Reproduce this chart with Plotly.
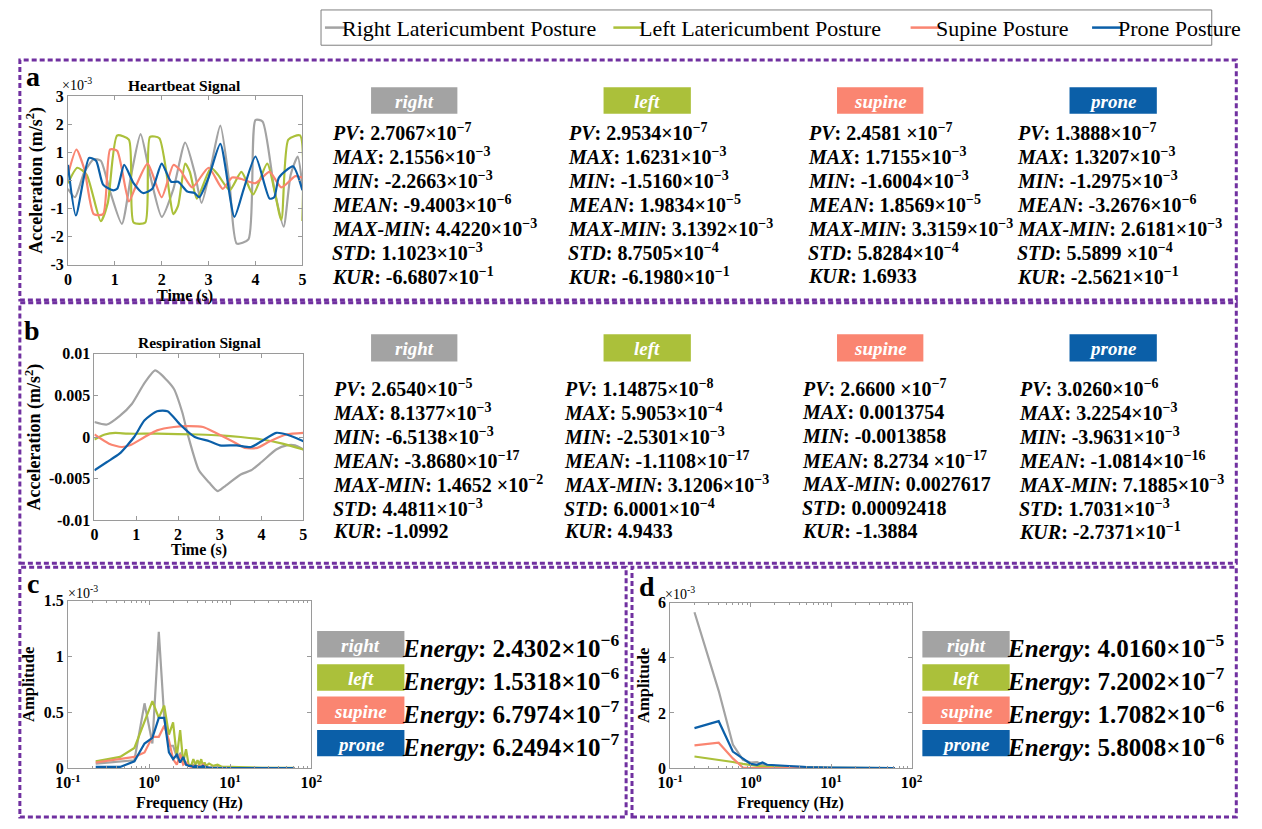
import plotly.graph_objects as go

W, H = 1262, 829
FONT = "Liberation Serif"

# ---------------- colours / names ----------------
postures = ["right", "left", "supine", "prone"]
legend_names = ["Right Latericumbent Posture", "Left Latericumbent Posture", "Supine Posture", "Prone Posture"]
colors = ["#A3A3A3", "#ABC03A", "#FA8571", "#0B5FA8"]

# ---------------- (a) heartbeat signal, units of 1e-3 m/s^2 ----------------
hb_right_t = [0, 0.15, 0.35, 0.55, 0.7, 0.9, 1.15, 1.35, 1.55, 1.75, 2.0, 2.25, 2.5, 2.7, 2.85, 3.05, 3.25, 3.45, 3.6, 3.85, 4.0, 4.15, 4.4, 4.6, 4.75, 4.9, 5.0]
hb_right_v = [-0.3, -0.6, 0.3, 0.75, 0.7, -0.4, -1.55, 0.2, 1.65, 0.2, -1.3, -0.3, 1.35, 0.3, -0.8, 0.5, 1.95, -0.2, -2.25, -2.1, 2.15, 2.1, -0.3, -1.65, 0.2, 0.85, -0.2]
hb_left_t = [0, 0.2, 0.4, 0.7, 0.85, 1.05, 1.3, 1.4, 1.65, 1.75, 1.95, 2.25, 2.35, 2.5, 2.6, 2.75, 3.05, 3.2, 3.45, 3.7, 3.95, 4.25, 4.55, 4.7, 4.95, 5.0]
hb_left_v = [-0.1, 0.45, 0.2, -1.45, -0.8, 1.6, 1.45, -1.5, -1.5, 1.55, 1.5, -1.2, -0.9, 0.6, 0.3, -0.65, 0.45, 0.2, -0.35, 0.3, -0.5, 0.6, -1.4, 1.45, 1.6, -1.45]
hb_supine_t = [0, 0.18, 0.35, 0.55, 0.75, 0.9, 1.05, 1.3, 1.45, 1.7, 2.0, 2.25, 2.4, 2.65, 3.0, 3.3, 3.5, 3.7, 4.0, 4.3, 4.55, 4.85, 5.0]
hb_supine_v = [0.2, 1.1, 0.4, -1.2, -1.2, 1.1, 1.05, -0.75, -0.2, 0.6, -0.6, 0.55, 0.35, -0.25, 0.45, -0.3, 0.1, 0.05, -0.1, 0.3, -0.25, 0.15, 0.1]
hb_prone_t = [0, 0.17, 0.45, 0.6, 0.75, 0.95, 1.05, 1.2, 1.4, 1.6, 1.8, 2.0, 2.2, 2.35, 2.55, 2.7, 2.8, 3.0, 3.25, 3.55, 3.75, 4.0, 4.3, 4.4, 4.5, 4.8, 5.0]
hb_prone_v = [0.55, -1.25, 0.8, 0.7, -0.15, -0.35, -0.3, 0.55, -0.1, -0.45, -0.3, 0.6, -0.05, -0.05, -0.4, -0.45, -0.6, 0.1, 1.3, -1.3, -0.3, 0.85, -0.65, -0.6, 0.1, 0.5, -0.35]

# ---------------- (b) respiration signal, m/s^2 ----------------
rs_right_t = [0, 0.3, 0.6, 0.9, 1.2, 1.45, 1.6, 1.9, 2.1, 2.25, 2.5, 2.75, 2.95, 3.1, 3.5, 3.75, 4.0, 4.35, 4.6, 4.8, 5.0]
rs_right_v = [0.0018, 0.0015, 0.0025, 0.004, 0.0065, 0.008, 0.0075, 0.0058, 0.003, 0.0, -0.004, -0.0055, -0.0065, -0.006, -0.0045, -0.004, -0.003, -0.0015, -0.001, -0.001, -0.0015]
rs_left_t = [0, 0.25, 0.5, 0.8, 1.5, 2.5, 3.0, 3.5, 4.0, 4.5, 5.0]
rs_left_v = [-0.0003, 0.0003, 0.0005, 0.0004, 0.0004, 0.0003, 0.0002, 0.0, -0.0003, -0.0008, -0.0015]
rs_supine_t = [0, 0.35, 0.65, 0.85, 1.2, 1.5, 1.9, 2.2, 2.6, 2.9, 3.3, 3.6, 3.9, 4.2, 4.6, 5.0]
rs_supine_v = [0.0003, -0.0008, -0.0012, -0.001, 0.0, 0.0008, 0.0012, 0.0013, 0.0012, 0.0005, -0.0005, -0.0013, -0.0013, -0.0005, 0.0003, 0.0005]
rs_prone_t = [0, 0.3, 0.6, 0.95, 1.2, 1.5, 1.75, 2.05, 2.4, 2.75, 3.0, 3.4, 3.75, 4.0, 4.35, 4.6, 5.0]
rs_prone_v = [-0.004, -0.003, -0.002, 0.0, 0.002, 0.0031, 0.0031, 0.0015, 0.0, -0.0005, -0.001, -0.001, -0.0012, -0.0005, 0.0005, 0.0003, -0.0005]

# ---------------- (c) heartbeat spectrum, units of 1e-3 ----------------
fc = [0.22, 0.44, 0.66, 0.88, 1.10, 1.32, 1.54, 1.76, 1.98, 2.20, 2.42, 2.64, 2.86, 3.08, 3.30, 3.52, 3.74, 3.96, 4.18, 4.40, 4.62, 4.84, 5.06, 5.5, 6.2, 7.0, 8.0, 10.0, 15.0, 25.0, 40.0, 62.0]
sc_right = [0.04, 0.06, 0.07, 0.58, 0.22, 1.22, 0.45, 0.20, 0.20, 0.10, 0.13, 0.08, 0.03, 0.03, 0.02, 0.03, 0.02, 0.02, 0.02, 0.02, 0.01, 0.02, 0.01, 0.01, 0.01, 0.01, 0.005, 0.005, 0.003, 0.002, 0.001, 0.0]
sc_left = [0.06, 0.10, 0.18, 0.42, 0.60, 0.45, 0.56, 0.30, 0.41, 0.10, 0.34, 0.05, 0.17, 0.03, 0.02, 0.08, 0.03, 0.07, 0.03, 0.08, 0.02, 0.05, 0.02, 0.04, 0.02, 0.03, 0.01, 0.01, 0.005, 0.003, 0.002, 0.001]
sc_supine = [0.05, 0.08, 0.10, 0.14, 0.28, 0.28, 0.38, 0.25, 0.08, 0.03, 0.12, 0.03, 0.05, 0.02, 0.01, 0.02, 0.01, 0.01, 0.02, 0.01, 0.03, 0.01, 0.01, 0.0, 0.0, 0.0, 0.0, 0.0, 0.0, 0.0, 0.0, 0.0]
sc_prone = [0.01, 0.01, 0.06, 0.22, 0.27, 0.45, 0.45, 0.14, 0.08, 0.12, 0.05, 0.10, 0.03, 0.02, 0.02, 0.01, 0.02, 0.01, 0.01, 0.01, 0.02, 0.01, 0.01, 0.0, 0.0, 0.0, 0.0, 0.0, 0.0, 0.0, 0.0, 0.0]

# ---------------- (d) respiration spectrum, units of 1e-3 ----------------
fd = [0.2, 0.4, 0.6, 0.8, 1.0, 1.2, 1.4, 1.6, 2.0, 3.0, 5.0, 10.0, 20.0, 40.0, 62.0]
sd_right = [5.65, 2.8, 0.85, 0.3, 0.2, 0.22, 0.12, 0.1, 0.08, 0.05, 0.03, 0.01, 0.005, 0.002, 0.0]
sd_left = [0.42, 0.3, 0.22, 0.15, 0.1, 0.08, 0.06, 0.05, 0.04, 0.02, 0.01, 0.005, 0.0, 0.0, 0.0]
sd_supine = [0.82, 0.92, 0.35, 0.02, 0.0, 0.0, 0.0, 0.0, 0.0, 0.0, 0.0, 0.0, 0.0, 0.0, 0.0]
sd_prone = [1.45, 1.7, 0.6, 0.35, 0.15, 0.12, 0.2, 0.12, 0.1, 0.06, 0.04, 0.02, 0.01, 0.005, 0.0]

# ---------------- statistics text ----------------
stat_names = ["PV", "MAX", "MIN", "MEAN", "MAX-MIN", "STD", "KUR"]
hb_stats_right = ["2.7067×10^-7", "2.1556×10^-3", "-2.2663×10^-3", "-9.4003×10^-6", "4.4220×10^-3", "1.1023×10^-3", "-6.6807×10^-1"]
hb_stats_left = ["2.9534×10^-7", "1.6231×10^-3", "-1.5160×10^-3", "1.9834×10^-5", "3.1392×10^-3", "8.7505×10^-4", "-6.1980×10^-1"]
hb_stats_supine = ["2.4581 ×10^-7", "1.7155×10^-3", "-1.6004×10^-3", "1.8569×10^-5", "3.3159×10^-3", "5.8284×10^-4", "1.6933"]
hb_stats_prone = ["1.3888×10^-7", "1.3207×10^-3", "-1.2975×10^-3", "-3.2676×10^-6", "2.6181×10^-3", "5.5899 ×10^-4", "-2.5621×10^-1"]
rs_stats_right = ["2.6540×10^-5", "8.1377×10^-3", "-6.5138×10^-3", "-3.8680×10^-17", "1.4652 ×10^-2", "4.4811×10^-3", "-1.0992"]
rs_stats_left = ["1.14875×10^-8", "5.9053×10^-4", "-2.5301×10^-3", "-1.1108×10^-17", "3.1206×10^-3", "6.0001×10^-4", "4.9433"]
rs_stats_supine = ["2.6600 ×10^-7", "0.0013754", "-0.0013858", "8.2734 ×10^-17", "0.0027617", "0.00092418", "-1.3884"]
rs_stats_prone = ["3.0260×10^-6", "3.2254×10^-3", "-3.9631×10^-3", "-1.0814×10^-16", "7.1885×10^-3", "1.7031×10^-3", "-2.7371×10^-1"]
energy_c = ["2.4302×10^-6", "1.5318×10^-6", "6.7974×10^-7", "6.2494×10^-7"]
energy_d = ["4.0160×10^-5", "7.2002×10^-7", "1.7082×10^-6", "5.8008×10^-6"]

LEFT_FIX = 9  # annotation left-anchor offset correction (px)


def X(p):
    return p / W


def Y(p):
    return 1 - p / H


def fmt(s):
    if "^" in s:
        m, e = s.split("^")
        return m + "<sup>" + e.replace("-", "−") + "</sup>"
    return s


fig = go.Figure()

series = [
    ("x", "y", True, [(hb_right_t, hb_right_v), (hb_left_t, hb_left_v), (hb_supine_t, hb_supine_v), (hb_prone_t, hb_prone_v)]),
    ("x2", "y2", True, [(rs_right_t, rs_right_v), (rs_left_t, rs_left_v), (rs_supine_t, rs_supine_v), (rs_prone_t, rs_prone_v)]),
    ("x3", "y3", False, [(fc, sc_right), (fc, sc_left), (fc, sc_supine), (fc, sc_prone)]),
    ("x4", "y4", False, [(fd, sd_right), (fd, sd_left), (fd, sd_supine), (fd, sd_prone)]),
]
for xa, ya, smooth, data in series:
    for i, (xs, ys) in enumerate(data):
        ln = dict(color=colors[i], width=2.2)
        if smooth:
            ln.update(shape="spline", smoothing=0.6)
        fig.add_trace(go.Scatter(x=xs, y=ys, mode="lines", xaxis=xa, yaxis=ya,
                                 line=ln, showlegend=False, name=legend_names[i]))

AX = "#9A9A9A"
tickfont = dict(family=FONT, size=16, color="black", weight="bold")
titlefont = dict(family=FONT, size=18, color="black", weight="bold")
common = dict(showline=True, linecolor=AX, linewidth=1, mirror="ticks", ticks="inside",
              ticklen=4, tickcolor=AX, showgrid=False, zeroline=False, tickfont=tickfont)

log_minor = [v * m for m in (0.1, 1, 10) for v in range(2, 10)]
log_ticks = dict(type="log", range=[-1, 2], tickvals=[0.1, 1, 10, 100],
                 ticktext=["10<sup>-1</sup>", "10<sup>0</sup>", "10<sup>1</sup>", "10<sup>2</sup>"],
                 minor=dict(tickvals=log_minor, ticks="inside", ticklen=2, tickcolor=AX, showgrid=False))

acc_title = dict(text="Acceleration (m/s<sup>2</sup>)", font=titlefont, standoff=3)
amp_title = dict(text="Amplitude", font=dict(titlefont, size=16.5), standoff=4)

fig.update_layout(
    xaxis=dict(domain=[X(56), X(295)], anchor="y", range=[0, 5], tickvals=[0, 1, 2, 3, 4, 5], **common),
    yaxis=dict(domain=[Y(262), Y(90)], anchor="x", range=[-3, 3], tickvals=[-3, -2, -1, 0, 1, 2, 3],
               ticktext=["-3", "-2", "-1", "0", "1", "2", "3"], title=acc_title, **common),
    xaxis2=dict(domain=[X(83), X(296)], anchor="y2", range=[0, 5], tickvals=[0, 1, 2, 3, 4, 5], **common),
    yaxis2=dict(domain=[Y(523), Y(353)], anchor="x2", range=[-0.01, 0.01],
                tickvals=[-0.01, -0.005, 0, 0.005, 0.01], ticktext=["-0.01", "-0.005", "0", "0.005", "0.01"],
                title=acc_title, **common),
    xaxis3=dict(domain=[X(56), X(304)], anchor="y3", **log_ticks, **common),
    yaxis3=dict(domain=[Y(776), Y(605)], anchor="x3", range=[0, 1.5], tickvals=[0, 0.5, 1, 1.5],
                ticktext=["0", "0.5", "1", "1.5"], title=amp_title, **common),
    xaxis4=dict(domain=[X(670), X(916)], anchor="y4", **log_ticks, **common),
    yaxis4=dict(domain=[Y(776), Y(607)], anchor="x4", range=[0, 6], tickvals=[0, 2, 4, 6],
                ticktext=["0", "2", "4", "6"], title=amp_title, **common),
)

shapes = []
annotations = []


def text(x, y, s, size, bold=True, color="black", xanchor="left", angle=0, italic=False):
    if xanchor == "left":
        x = x - LEFT_FIX
    annotations.append(dict(x=X(x), y=Y(y), xref="paper", yref="paper", text=s, showarrow=False,
                            xanchor=xanchor, yanchor="middle", textangle=angle,
                            font=dict(family=FONT, size=size, color=color,
                                      weight="bold" if bold else "normal",
                                      style="italic" if italic else "normal")))


def rect(x0, y0, x1, y1, **kw):
    shapes.append(dict(type="rect", xref="paper", yref="paper", x0=X(x0), x1=X(x1), y0=Y(y1), y1=Y(y0), **kw))


# dashed panel frames
PURPLE = "#7030A0"
for (x0, y0, x1, y1) in [(7, 53, 1247, 298), (7, 301, 1247, 567), (7, 571, 625, 826), (631, 571, 1247, 826)]:
    rect(x0, y0, x1, y1, line=dict(color=PURPLE, width=3, dash="5px,3px"))

# top legend
rect(314, 2, 1222, 38, line=dict(color="#7F7F7F", width=1))
leg_line_x = [(318, 340), (612, 642), (915, 945), (1100, 1130)]
leg_text_x = [342, 645, 948, 1133]
for i in range(4):
    shapes.append(dict(type="line", xref="paper", yref="paper", x0=X(leg_line_x[i][0]), x1=X(leg_line_x[i][1]),
                       y0=Y(20), y1=Y(20), line=dict(color=colors[i], width=2.5)))
    text(leg_text_x[i], 21, legend_names[i], 22, bold=False)

# panel letters
text(20, 70, "a", 28, xanchor="center")
text(19, 329, "b", 28, xanchor="center")
text(20, 588, "c", 28, xanchor="center")
text(646, 591, "d", 28, xanchor="center")

# plot titles & x axis titles
text(175, 79, "Heartbeat Signal", 15.5, xanchor="center")
text(190, 342, "Respiration Signal", 15.5, xanchor="center")
text(57, 78, "×10<sup>-3</sup>", 14, bold=False)
text(63, 596, "×10<sup>-3</sup>", 14, bold=False)
text(672, 597, "×10<sup>-3</sup>", 14, bold=False)
text(175, 294, "Time (s)", 16, xanchor="center")
text(190, 553, "Time (s)", 16, xanchor="center")
text(180, 812, "Frequency (Hz)", 16, xanchor="center")
text(793, 812, "Frequency (Hz)", 16, xanchor="center")

# statistics blocks
box_x = [(365, 453), (602, 691), (840, 928), (1077, 1166)]
col_x_a = [332, 573, 817, 1030]
col_x_b = [333, 569, 811, 1032]
hb_cols = [hb_stats_right, hb_stats_left, hb_stats_supine, hb_stats_prone]
rs_cols = [rs_stats_right, rs_stats_left, rs_stats_supine, rs_stats_prone]

for (by0, by1, lines_y0, colx, cols) in [(81, 108, 127, col_x_a, hb_cols), (333, 361, 388, col_x_b, rs_cols)]:
    for i in range(4):
        rect(box_x[i][0], by0, box_x[i][1], by1, fillcolor=colors[i], line=dict(width=0), layer="below")
        text((box_x[i][0] + box_x[i][1]) / 2, (by0 + by1) / 2 + 1, postures[i], 19, color="white",
             xanchor="center", italic=True)
        for j, name in enumerate(stat_names):
            text(colx[i], lines_y0 + 24.4 * j, "<i>" + name + "</i>: " + fmt(cols[i][j]), 20)

# energy blocks
rows = [(636, 663), (670, 697), (703, 731), (737, 764)]
for (bx0, bx1, tx, vals) in [(310, 399, 403, energy_c), (927, 1016, 1020, energy_d)]:
    for i in range(4):
        y0, y1 = rows[i]
        rect(bx0, y0, bx1, y1, fillcolor=colors[i], line=dict(width=0), layer="below")
        text((bx0 + bx1) / 2, (y0 + y1) / 2 + 1, postures[i], 19, color="white", xanchor="center", italic=True)
        text(tx, (y0 + y1) / 2 + 2, "<i>Energy</i>: " + fmt(vals[i]), 25)

fig.update_layout(width=W, height=H, autosize=False, margin=dict(l=0, r=0, t=0, b=0),
                  paper_bgcolor="white", plot_bgcolor="white", shapes=shapes, annotations=annotations,
                  showlegend=False)

fig.write_html("out.html")
